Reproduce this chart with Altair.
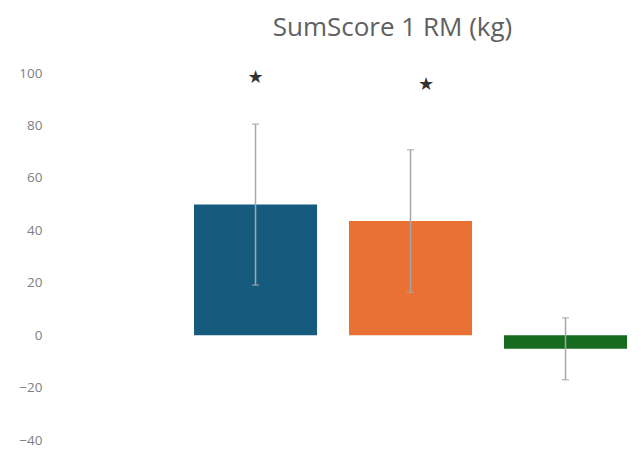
import altair as alt
import pandas as pd

# Group means with their spread (kg)
groups = ["A", "B", "C"]
positions = [1, 2, 3]
means = [49.8, 43.5, -5.2]
err_lo = [19.1, 16.3, -17.0]
err_hi = [80.5, 70.7, 6.6]
colors = ["#165B7E", "#E87133", "#176B1F"]

# Significance markers
star_x = [1.0, 2.1]
star_y = [98.0, 95.6]

bars = pd.DataFrame({
    "group": groups, "pos": positions, "mean": means,
    "lo": err_lo, "hi": err_hi, "color": colors,
})
stars = pd.DataFrame({"x": star_x, "y": star_y, "label": ["★", "★"]})

xscale = alt.Scale(domain=[-0.339, 3.487], nice=False, zero=False)
yscale = alt.Scale(domain=[-40, 100], nice=False)
half = 0.397

base = alt.Chart(bars)

bar_layer = base.transform_calculate(
    x0=f"datum.pos - {half}", x1=f"datum.pos + {half}"
).mark_bar(cornerRadius=0).encode(
    x=alt.X("x0:Q", scale=xscale, axis=None),
    x2="x1:Q",
    y=alt.Y("mean:Q", scale=yscale,
            axis=alt.Axis(values=[-40, -20, 0, 20, 40, 60, 80, 100],
                          domain=False, ticks=False, grid=False, title=None,
                          labelColor="#808080", labelFontSize=13.5,
                          labelFont="Open Sans", labelPadding=6)),
    y2=alt.datum(0),
    color=alt.Color("color:N", scale=None),
)

err_rule = base.mark_rule(color="#a6a6a6", strokeWidth=1.5).encode(
    x=alt.X("pos:Q", scale=xscale, axis=None),
    y=alt.Y("lo:Q", scale=yscale),
    y2="hi:Q",
)

cap_lo = base.mark_tick(color="#a6a6a6", orient="horizontal", size=7, thickness=1.5).encode(
    x=alt.X("pos:Q", scale=xscale, axis=None), y=alt.Y("lo:Q", scale=yscale))
cap_hi = base.mark_tick(color="#a6a6a6", orient="horizontal", size=7, thickness=1.5).encode(
    x=alt.X("pos:Q", scale=xscale, axis=None), y=alt.Y("hi:Q", scale=yscale))

star_layer = alt.Chart(stars).mark_text(
    fontSize=18, color="#333333", font="DejaVu Sans", baseline="middle"
).encode(
    x=alt.X("x:Q", scale=xscale, axis=None),
    y=alt.Y("y:Q", scale=yscale),
    text="label:N",
)

chart = alt.layer(bar_layer, err_rule, cap_lo, cap_hi, star_layer).properties(
    width=593, height=367,
    background="white",
    title=alt.TitleParams("SumScore 1 RM (kg)", font="Open Sans", fontSize=26,
                          fontWeight="normal", color="#606060",
                          anchor="middle", dx=48, offset=25),
    autosize=alt.AutoSizeParams(type="none"),
    padding={"left": 48, "top": 73, "right": 0, "bottom": 22},
).configure_view(strokeWidth=0).configure_axis(
    domain=False, ticks=False, grid=False
)

chart.save("out.html", embed_options={"renderer": "svg", "actions": False})
